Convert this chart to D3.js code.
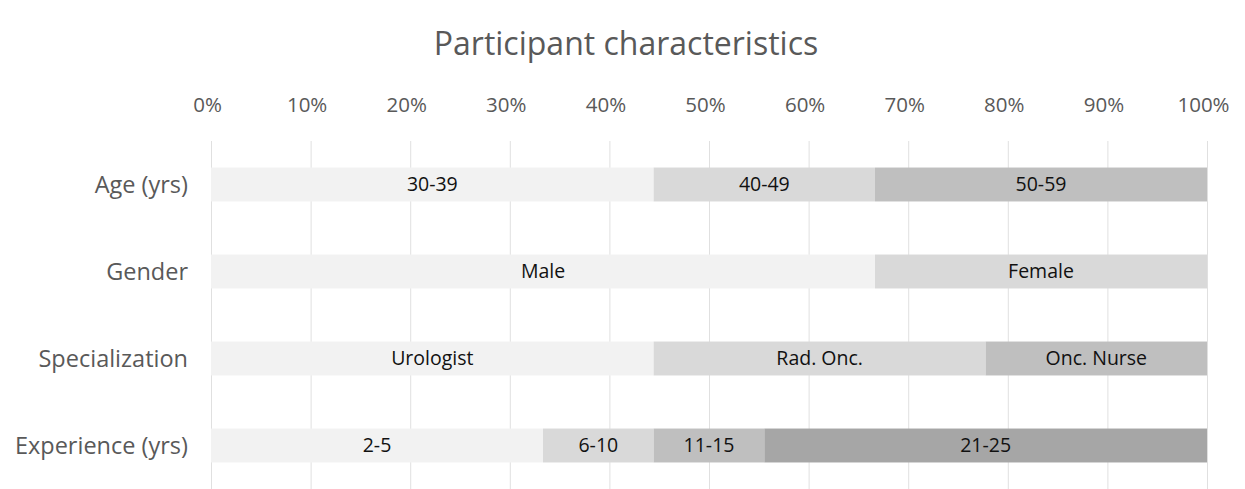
<!DOCTYPE html>
<html>
<head>
<meta charset="utf-8">
<script src="https://cdn.jsdelivr.net/npm/d3@7"></script>
<style>
  body { margin: 0; background: #fff; }
  svg { display: block; font-family: 'Open Sans', sans-serif; }
</style>
</head>
<body>
<svg id="chart" width="1245" height="489"></svg>
<script>
const categories = ['Age (yrs)', 'Gender', 'Specialization', 'Experience (yrs)']

// participants per group (n = 9)
const ageLabels = ['30-39', '40-49', '50-59']
const ageCounts = [4, 2, 3]
const genderLabels = ['Male', 'Female']
const genderCounts = [6, 3]
const specLabels = ['Urologist', 'Rad. Onc.', 'Onc. Nurse']
const specCounts = [4, 3, 2]
const expLabels = ['2-5', '6-10', '11-15', '21-25']
const expCounts = [3, 1, 1, 4]

const tickValues = [0, 0.1, 0.2, 0.3, 0.4, 0.5, 0.6, 0.7, 0.8, 0.9, 1]

const rows = [
  {name: categories[0], labels: ageLabels, counts: ageCounts},
  {name: categories[1], labels: genderLabels, counts: genderCounts},
  {name: categories[2], labels: specLabels, counts: specCounts},
  {name: categories[3], labels: expLabels, counts: expCounts}
]

const shades = ['#f2f2f2', '#d9d9d9', '#bfbfbf', '#a6a6a6']

const svg = d3.select('#chart')

const x = d3.scaleLinear().domain([0, 1]).range([211, 1207])
const y = d3.scaleBand()
  .domain(categories)
  .range([141, 489])
  .paddingInner(0.61)
  .paddingOuter(0.305)

// title
svg.append('text')
  .attr('x', 626)
  .attr('y', 55)
  .attr('text-anchor', 'middle')
  .attr('font-size', 32)
  .attr('fill', '#595959')
  .text('Participant characteristics')

// gridlines
svg.append('g')
  .selectAll('line')
  .data(tickValues)
  .join('line')
  .attr('x1', d => x(d) + 0.5)
  .attr('x2', d => x(d) + 0.5)
  .attr('y1', 141)
  .attr('y2', 489)
  .attr('stroke', '#e0e0e0')
  .attr('stroke-width', 1)

// top axis labels
const axis = svg.append('g')
  .attr('transform', 'translate(-4,112)')
  .call(d3.axisTop(x).tickValues(tickValues).tickFormat(d3.format('.0%')).tickSize(0).tickPadding(0))
axis.select('.domain').remove()
axis.selectAll('text')
  .attr('font-size', 20.5)
  .attr('font-family', "'Open Sans', sans-serif")
  .attr('fill', '#595959')

// category labels
svg.append('g')
  .selectAll('text')
  .data(categories)
  .join('text')
  .attr('x', 188)
  .attr('y', d => y(d) + y.bandwidth() / 2)
  .attr('dy', '0.35em')
  .attr('text-anchor', 'end')
  .attr('font-size', 23.5)
  .attr('fill', '#595959')
  .text(d => d)

// stacked segments
const segments = rows.flatMap(r => {
  const total = d3.sum(r.counts)
  let acc = 0
  return r.counts.map((c, i) => {
    const seg = {row: r.name, label: r.labels[i], i, x0: acc / total, x1: (acc + c) / total}
    acc += c
    return seg
  })
})

const bars = svg.append('g')
bars.selectAll('rect')
  .data(segments)
  .join('rect')
  .attr('x', d => x(d.x0))
  .attr('width', d => x(d.x1) - x(d.x0))
  .attr('y', d => y(d.row))
  .attr('height', y.bandwidth())
  .attr('fill', d => shades[d.i])

bars.selectAll('text')
  .data(segments)
  .join('text')
  .attr('x', d => (x(d.x0) + x(d.x1)) / 2)
  .attr('y', d => y(d.row) + y.bandwidth() / 2)
  .attr('dy', '0.35em')
  .attr('text-anchor', 'middle')
  .attr('font-size', 19.5)
  .attr('fill', '#111')
  .text(d => d.label)
</script>
</body>
</html>
